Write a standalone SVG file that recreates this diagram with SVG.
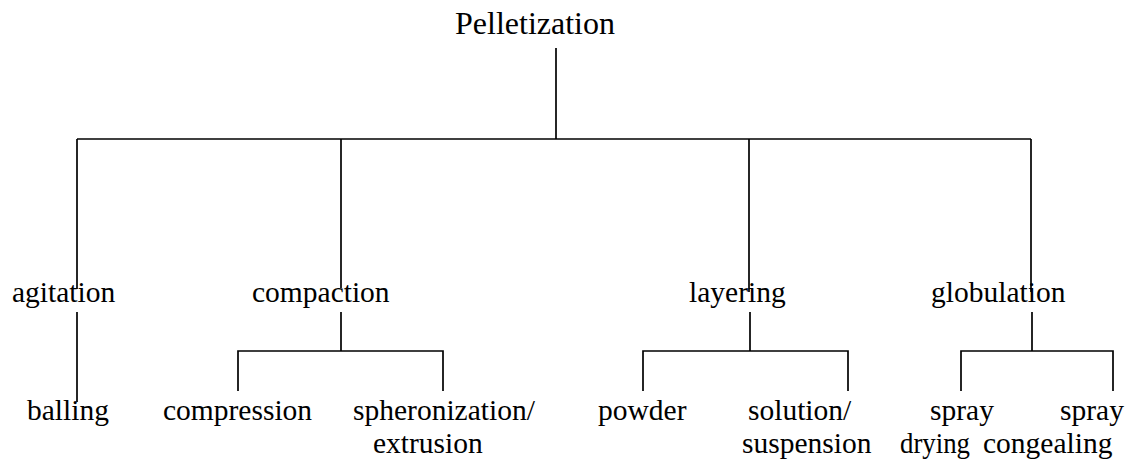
<svg xmlns="http://www.w3.org/2000/svg" width="1133" height="461" viewBox="0 0 1133 461">
<style>
text{font-family:"Liberation Serif","Times New Roman",serif;font-size:29.5px;fill:#000}
.title{font-size:32px}
.c path{fill:none;stroke:#000;stroke-width:1.7}
</style>
<rect width="1133" height="461" fill="#fff"/>
<g class="c" id="connectors">
<path d="M556 48V139"/>
<path d="M77 139H1031"/>
<path d="M77 139V289"/>
<path d="M341 139V288"/>
<path d="M749 139V292"/>
<path d="M1031 139V292"/>
<path d="M77 312V402"/>
<path d="M341 312V351M238 391V351H443V391"/>
<path d="M750 312V351M643 391V351H848V391"/>
<path d="M1032 312V351M961 391V351H1113V391"/>
</g>
<g id="pelletization"><text class="title" x="455" y="34">Pelletization</text></g>
<g id="agitation"><text x="12" y="302">agitation</text></g>
<g id="compaction"><text x="252" y="302">compaction</text></g>
<g id="layering"><text x="689" y="302">layering</text></g>
<g id="globulation"><text x="931" y="302">globulation</text></g>
<g id="balling"><text x="27" y="420">balling</text></g>
<g id="compression"><text x="163" y="420">compression</text></g>
<g id="spheronization"><text x="353" y="420">spheronization/</text><text x="373" y="453">extrusion</text></g>
<g id="powder"><text x="598" y="420">powder</text></g>
<g id="solution"><text x="748" y="420">solution/</text><text x="742" y="453">suspension</text></g>
<g id="spray-drying"><text x="930" y="420">spray</text><text x="900" y="453" textLength="70" lengthAdjust="spacingAndGlyphs">drying</text></g>
<g id="spray-congealing"><text x="1060" y="420">spray</text><text x="983" y="453">congealing</text></g>
</svg>
